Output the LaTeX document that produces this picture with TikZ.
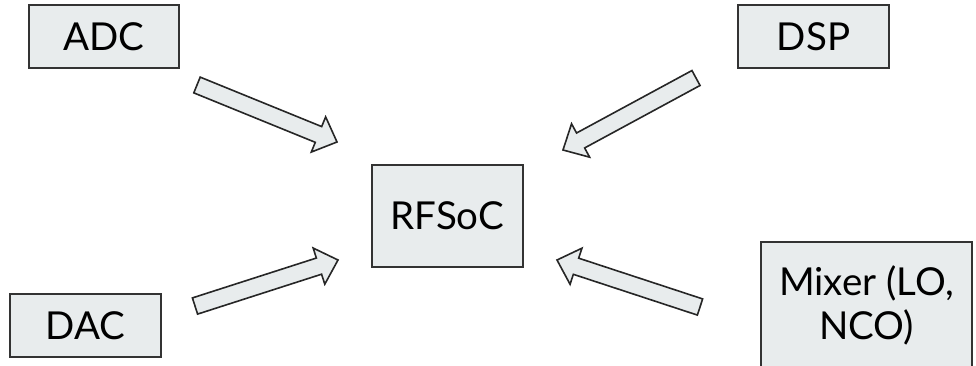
\documentclass[tikz,border=0pt]{standalone}
\usepackage{fontspec}
\setmainfont{Lato}
\usepackage{tikz}
\usetikzlibrary{calc}

\definecolor{boxgray}{RGB}{232,236,237}
\definecolor{edgegray}{RGB}{51,51,51}

\tikzset{
  block/.style={draw=edgegray, line width=2pt, fill=boxgray, align=center,
    font=\fontsize{38.5}{44}\selectfont, inner sep=0pt},
  fatarr/.style={draw=black!85, line width=1.6pt, fill=boxgray, line join=miter}
}

% block arrow from #1 (tail) to #2 (tip)
\newcommand{\fatarrow}[2]{%
  \coordinate (hb) at ($(#2)!20pt!(#1)$);
  \draw[fatarr] ($(#1)!8.5pt!90:(#2)$) -- ($(hb)!8.5pt!-90:(#1)$)
    -- ($(hb)!19pt!-90:(#1)$) -- (#2) -- ($(hb)!19pt!90:(#1)$)
    -- ($(hb)!8.5pt!90:(#1)$) -- ($(#1)!8.5pt!-90:(#2)$) -- cycle;}

\begin{document}
\begin{tikzpicture}[x=1pt, y=-1pt]

\useasboundingbox (0,0) rectangle (976,366);

\node[block, minimum width=150pt, minimum height=63pt] (adc) at (104,36.5) {ADC};
\node[block, minimum width=151pt, minimum height=63pt] (dsp) at (813.5,36.5) {DSP};
\node[block, minimum width=151pt, minimum height=63pt] (dac) at (85.5,325.5) {DAC};
\node[block, minimum width=151pt, minimum height=102pt] (rfsoc) at (447.5,216) {RFSoC};
\node[block, minimum width=211pt, minimum height=126pt] (mixer) at (866.5,305) {Mixer (LO,\\NCO)};

\coordinate (adc-tail) at (197,85);   \coordinate (adc-tip) at (337,142);
\coordinate (dsp-tail) at (696,78);   \coordinate (dsp-tip) at (563,150);
\coordinate (dac-tail) at (195,306);  \coordinate (dac-tip) at (338,260);
\coordinate (mix-tail) at (700,307);  \coordinate (mix-tip) at (557,260);

\fatarrow{adc-tail}{adc-tip}
\fatarrow{dsp-tail}{dsp-tip}
\fatarrow{dac-tail}{dac-tip}
\fatarrow{mix-tail}{mix-tip}

\end{tikzpicture}
\end{document}
